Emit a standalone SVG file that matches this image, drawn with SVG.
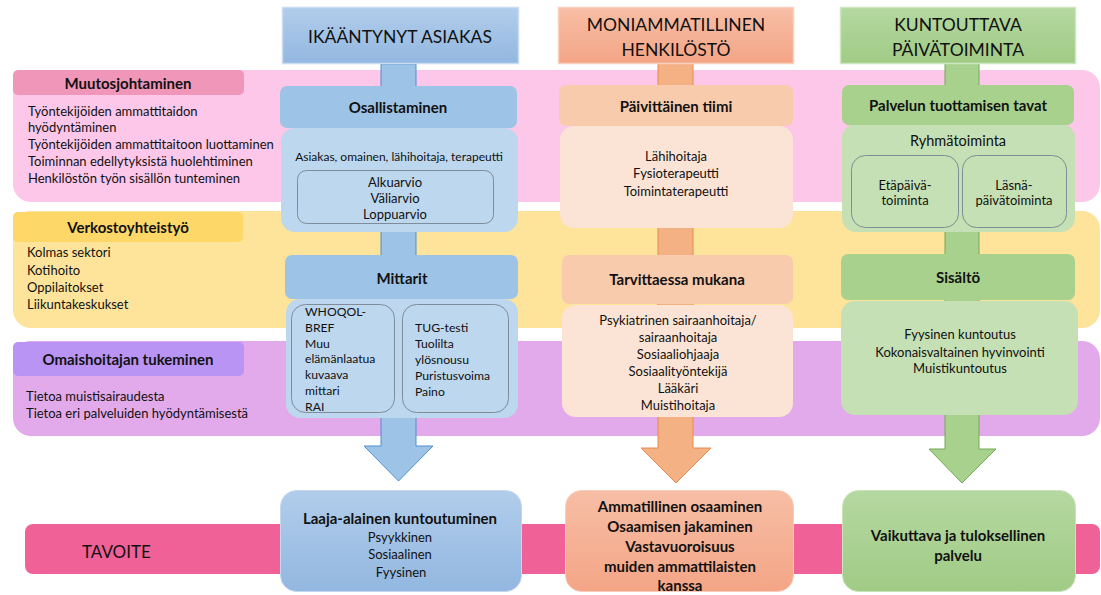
<svg xmlns="http://www.w3.org/2000/svg" width="1101" height="595" viewBox="0 0 1101 595">
  <style>
    text { font-family: Lato, "Liberation Sans", sans-serif; fill: #111; dominant-baseline: central; }
    .hdr { font-size: 17.5px; text-anchor: middle; }
    .ttl { font-size: 15px; font-weight: bold; text-anchor: middle; }
    .lbl { font-size: 15px; font-weight: bold; text-anchor: middle; }
    .itm { font-size: 13px; }
    .mid { font-size: 13px; text-anchor: middle; }
    .sml { font-size: 12.2px; }
    .inner { fill: none; stroke: #7f8c99; stroke-width: 1; }
  </style>
  <defs>
    <linearGradient id="gBlue" x1="0" y1="0" x2="0" y2="1">
      <stop offset="0" stop-color="#b1cdeb"/>
      <stop offset="1" stop-color="#93b7e0"/>
    </linearGradient>
    <linearGradient id="gOrange" x1="0" y1="0" x2="0" y2="1">
      <stop offset="0" stop-color="#f7bea6"/>
      <stop offset="1" stop-color="#f4a586"/>
    </linearGradient>
    <linearGradient id="gGreen" x1="0" y1="0" x2="0" y2="1">
      <stop offset="0" stop-color="#b5d8a1"/>
      <stop offset="1" stop-color="#a0cb85"/>
    </linearGradient>
  </defs>

  <!-- background bands -->
  <g id="band-muutos">
    <rect x="13" y="70" width="1087" height="132" rx="18" fill="#fcc7e9"/>
    <rect x="13" y="70" width="231" height="25" rx="5" fill="#ef96b9"/>
    <text class="lbl" x="128" y="83">Muutosjohtaminen</text>
    <text class="itm" x="28" y="111">Työntekijöiden ammattitaidon</text>
    <text class="itm" x="28" y="127">hyödyntäminen</text>
    <text class="itm" x="28" y="144">Työntekijöiden ammattitaitoon luottaminen</text>
    <text class="itm" x="28" y="161">Toiminnan edellytyksistä huolehtiminen</text>
    <text class="itm" x="28" y="178">Henkilöstön työn sisällön tunteminen</text>
  </g>
  <g id="band-verkosto">
    <rect x="13" y="211" width="1087" height="117" rx="18" fill="#fee49a"/>
    <rect x="13" y="212" width="230" height="30" rx="5" fill="#fed769"/>
    <text class="lbl" x="128" y="227">Verkostoyhteistyö</text>
    <text class="itm" x="27" y="252">Kolmas sektori</text>
    <text class="itm" x="27" y="270">Kotihoito</text>
    <text class="itm" x="27" y="287">Oppilaitokset</text>
    <text class="itm" x="27" y="304">Liikuntakeskukset</text>
  </g>
  <g id="band-omaishoitaja">
    <rect x="13" y="341" width="1087" height="95" rx="18" fill="#e3aaeb"/>
    <rect x="13" y="342" width="231" height="34" rx="5" fill="#ba94f4"/>
    <text class="lbl" x="128" y="359">Omaishoitajan tukeminen</text>
    <text class="itm" x="26" y="396">Tietoa muistisairaudesta</text>
    <text class="itm" x="26" y="413">Tietoa eri palveluiden hyödyntämisestä</text>
  </g>
  <g id="band-tavoite">
    <rect x="25" y="524" width="1075" height="50" rx="8" fill="#f06197"/>
    <text x="82" y="551" style="font-size:17px">TAVOITE</text>
  </g>

  <!-- column flow arrows -->
  <g id="connectors">
    <path d="M381,64 L381,446 L364,446 L398.5,481 L433,446 L416,446 L416,64 Z" fill="#9dc3e6" stroke="#4f8fd0" stroke-width="1"/>
    <path d="M658,63 L658,448 L641,448 L676,483 L711,448 L693,448 L693,63 Z" fill="#f4b183" stroke="#e88a4e" stroke-width="1"/>
    <path d="M945,63 L945,449 L929,449 L962,483 L996,449 L979,449 L979,63 Z" fill="#a9d18e" stroke="#74a957" stroke-width="1"/>
  </g>

  <!-- headers -->
  <g id="hdr-asiakas">
    <rect x="282.5" y="7.5" width="236" height="56" fill="url(#gBlue)" stroke="#c9dcf1" stroke-width="1.5"/>
    <text class="hdr" x="400" y="36">IKÄÄNTYNYT ASIAKAS</text>
  </g>
  <g id="hdr-henkilosto">
    <rect x="558.5" y="7.5" width="235" height="56" fill="url(#gOrange)" stroke="#f9d0bf" stroke-width="1.5"/>
    <text class="hdr" x="676" y="24">MONIAMMATILLINEN</text>
    <text class="hdr" x="676" y="49">HENKILÖSTÖ</text>
  </g>
  <g id="hdr-paivatoiminta">
    <rect x="840.5" y="7.5" width="235" height="56" fill="url(#gGreen)" stroke="#cfe6c0" stroke-width="1.5"/>
    <text class="hdr" x="958" y="24">KUNTOUTTAVA</text>
    <text class="hdr" x="958" y="49">PÄIVÄTOIMINTA</text>
  </g>

  <!-- column 1 -->
  <g id="osallistaminen">
    <rect x="281" y="128" width="237" height="104" rx="14" fill="#bdd7ee"/>
    <rect x="280" y="86" width="237" height="42" rx="7" fill="#9dc3e6"/>
    <text class="ttl" x="398" y="107">Osallistaminen</text>
    <text x="399" y="156" style="font-size:12px;text-anchor:middle">Asiakas, omainen, lähihoitaja, terapeutti</text>
    <rect class="inner" x="297.5" y="170.5" width="196" height="53" rx="9"/>
    <text class="mid" x="395" y="182">Alkuarvio</text>
    <text class="mid" x="395" y="198">Väliarvio</text>
    <text class="mid" x="395" y="214">Loppuarvio</text>
  </g>
  <g id="mittarit">
    <rect x="286" y="299" width="232" height="119" rx="14" fill="#bdd7ee"/>
    <rect x="285" y="255" width="233" height="44" rx="7" fill="#9dc3e6"/>
    <text class="ttl" x="402" y="278">Mittarit</text>
    <rect class="inner" x="291.5" y="304.5" width="103" height="108" rx="14"/>
    <rect class="inner" x="402.5" y="304.5" width="106" height="108" rx="14"/>
    <text class="sml" x="305" y="311">WHOQOL-</text>
    <text class="sml" x="305" y="327">BREF</text>
    <text class="sml" x="305" y="343">Muu</text>
    <text class="sml" x="305" y="358">elämänlaatua</text>
    <text class="sml" x="305" y="374">kuvaava</text>
    <text class="sml" x="305" y="390">mittari</text>
    <text class="sml" x="305" y="406">RAI</text>
    <text class="sml" x="415" y="327">TUG-testi</text>
    <text class="sml" x="415" y="343">Tuolilta</text>
    <text class="sml" x="415" y="359">ylösnousu</text>
    <text class="sml" x="415" y="375">Puristusvoima</text>
    <text class="sml" x="415" y="391">Paino</text>
  </g>
  <g id="laaja-alainen">
    <rect x="280.5" y="490.5" width="241" height="101" rx="16" fill="url(#gBlue)" stroke="#c4d8ef" stroke-width="1"/>
    <text class="ttl" x="400" y="518">Laaja-alainen kuntoutuminen</text>
    <text class="mid" x="400" y="537">Psyykkinen</text>
    <text class="mid" x="400" y="554">Sosiaalinen</text>
    <text class="mid" x="401" y="572">Fyysinen</text>
  </g>

  <!-- column 2 -->
  <g id="paivittainen-tiimi">
    <rect x="560" y="126" width="233" height="102" rx="14" fill="#fbe4d5"/>
    <rect x="559" y="85" width="234" height="41" rx="7" fill="#f8cbad"/>
    <text class="ttl" x="676" y="106">Päivittäinen tiimi</text>
    <text class="mid" x="676" y="156">Lähihoitaja</text>
    <text class="mid" x="676" y="173">Fysioterapeutti</text>
    <text class="mid" x="676" y="191">Toimintaterapeutti</text>
  </g>
  <g id="tarvittaessa">
    <rect x="562" y="305" width="231" height="112" rx="14" fill="#fbe4d5"/>
    <rect x="562" y="255" width="231" height="49" rx="7" fill="#f8cbad"/>
    <text class="ttl" x="677" y="279">Tarvittaessa mukana</text>
    <text class="mid" x="678" y="320">Psykiatrinen sairaanhoitaja/</text>
    <text class="mid" x="678" y="337">sairaanhoitaja</text>
    <text class="mid" x="678" y="354">Sosiaaliohjaaja</text>
    <text class="mid" x="678" y="371">Sosiaalityöntekijä</text>
    <text class="mid" x="678" y="388">Lääkäri</text>
    <text class="mid" x="678" y="405">Muistihoitaja</text>
  </g>
  <g id="osaaminen">
    <rect x="565.5" y="490.5" width="228" height="101" rx="16" fill="url(#gOrange)" stroke="#f9cdb9" stroke-width="1"/>
    <text class="ttl" x="680" y="506">Ammatillinen osaaminen</text>
    <text class="ttl" x="680" y="526">Osaamisen jakaminen</text>
    <text class="ttl" x="680" y="546">Vastavuoroisuus</text>
    <text class="ttl" x="680" y="566">muiden ammattilaisten</text>
    <text class="ttl" x="680" y="585">kanssa</text>
  </g>

  <!-- column 3 -->
  <g id="tuottamisen-tavat">
    <rect x="842" y="124" width="233" height="108" rx="14" fill="#c5e0b4"/>
    <rect x="842" y="85" width="232" height="40" rx="7" fill="#a9d18e"/>
    <text class="ttl" x="958" y="105">Palvelun tuottamisen tavat</text>
    <text x="958" y="140" style="font-size:14.5px;text-anchor:middle">Ryhmätoiminta</text>
    <rect class="inner" x="851.5" y="155.5" width="107" height="72" rx="14"/>
    <rect class="inner" x="962.5" y="155.5" width="104" height="72" rx="14"/>
    <text class="mid" x="905" y="185">Etäpäivä-</text>
    <text class="mid" x="905" y="200">toiminta</text>
    <text class="mid" x="1014" y="185">Läsnä-</text>
    <text class="mid" x="1014" y="200">päivätoiminta</text>
  </g>
  <g id="sisalto">
    <rect x="841" y="301" width="237" height="114" rx="14" fill="#c5e0b4"/>
    <rect x="841" y="254" width="234" height="46" rx="7" fill="#a9d18e"/>
    <text class="ttl" x="958" y="277">Sisältö</text>
    <text class="mid" x="960" y="334">Fyysinen kuntoutus</text>
    <text class="mid" x="960" y="352">Kokonaisvaltainen hyvinvointi</text>
    <text class="mid" x="960" y="368">Muistikuntoutus</text>
  </g>
  <g id="vaikuttava">
    <rect x="842.5" y="490.5" width="233" height="101" rx="16" fill="url(#gGreen)" stroke="#cbe3bb" stroke-width="1"/>
    <text class="ttl" x="958" y="535">Vaikuttava ja tuloksellinen</text>
    <text class="ttl" x="958" y="555">palvelu</text>
  </g>
</svg>
